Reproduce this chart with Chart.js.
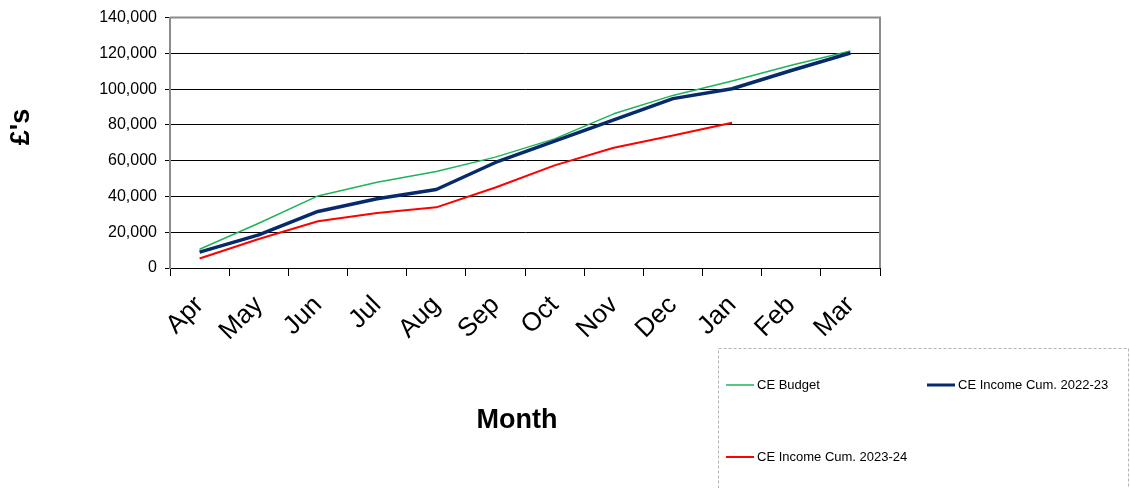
<!DOCTYPE html>
<html>
<head>
<meta charset="utf-8">
<script src="https://cdn.jsdelivr.net/npm/chart.js@4/dist/chart.umd.min.js"></script>
<style>
  html, body { margin: 0; padding: 0; background: #ffffff; }
  #wrap { width: 1130px; height: 488px; position: relative; }
</style>
</head>
<body>
<div id="wrap"><canvas id="c" width="1130" height="488"></canvas></div>
<script>
// Financial-year months and cumulative CE figures (£)
const months = ['Apr', 'May', 'Jun', 'Jul', 'Aug', 'Sep', 'Oct', 'Nov', 'Dec', 'Jan', 'Feb', 'Mar'];
const budget = [10500, 25000, 40300, 48000, 54000, 62000, 72200, 86200, 96500, 104500, 113400, 121300];
const income2223 = [8900, 18500, 31600, 38700, 43900, 59000, 70900, 82800, 94700, 100200, 110400, 120200];
const income2324 = [5300, 16200, 26100, 30700, 33900, 45000, 57400, 67200, 74100, 81200, null, null];
const yTickValues = [0, 20000, 40000, 60000, 80000, 100000, 120000, 140000];
const seriesNames = ['CE Budget', 'CE Income Cum. 2022-23', 'CE Income Cum. 2023-24'];

const FONT = "'Liberation Sans', Arial, sans-serif";

function fmt(v) {
  return String(v).replace(/\B(?=(\d{3})+(?!\d))/g, ',');
}

// Grey frame on the top and right of the plot area, axis titles and the legend box
const decorations = {
  id: 'decorations',
  afterDraw(chart) {
    const ctx = chart.ctx;
    const a = chart.chartArea;
    ctx.save();
    ctx.strokeStyle = '#8c8c8c';
    ctx.lineWidth = 2;
    ctx.beginPath();
    ctx.moveTo(a.left, a.top);
    ctx.lineTo(a.right, a.top);
    ctx.lineTo(a.right, a.bottom);
    ctx.stroke();

    // axis titles
    ctx.fillStyle = '#000';
    ctx.font = 'bold 27px ' + FONT;
    ctx.textAlign = 'center';
    ctx.textBaseline = 'alphabetic';
    ctx.fillText('Month', 517, 428);

    ctx.save();
    ctx.translate(22, 127);
    ctx.rotate(-Math.PI / 2);
    ctx.textBaseline = 'middle';
    ctx.fillText("£'s", 0, 0);
    ctx.restore();

    // legend box
    ctx.strokeStyle = '#b4b4b4';
    ctx.lineWidth = 1;
    ctx.setLineDash([3, 2]);
    ctx.strokeRect(718.5, 348.5, 410, 150);
    ctx.setLineDash([]);

    const slots = [
      { x: 726, y: 385 },
      { x: 927, y: 385 },
      { x: 726, y: 457 }
    ];
    ctx.font = '13px ' + FONT;
    ctx.textAlign = 'left';
    ctx.textBaseline = 'middle';
    chart.data.datasets.forEach((ds, i) => {
      const s = slots[i];
      ctx.strokeStyle = ds.borderColor;
      ctx.lineWidth = Math.min(ds.borderWidth, 3);
      ctx.beginPath();
      ctx.moveTo(s.x, s.y);
      ctx.lineTo(s.x + 28, s.y);
      ctx.stroke();
      ctx.fillStyle = '#000';
      ctx.fillText(ds.label, s.x + 31, s.y);
    });
    ctx.restore();
  }
};

new Chart(document.getElementById('c'), {
  type: 'line',
  data: {
    labels: months,
    datasets: [
      { label: seriesNames[0], data: budget, borderColor: '#1db35a', borderWidth: 1.5, order: 3 },
      { label: seriesNames[1], data: income2223, borderColor: '#062a6b', borderWidth: 3.5, order: 2 },
      { label: seriesNames[2], data: income2324, borderColor: '#ff0000', borderWidth: 2, order: 1 }
    ]
  },
  options: {
    responsive: false,
    animation: false,
    devicePixelRatio: 1,
    layout: { padding: { left: 0, top: 16, right: 250, bottom: 0 } },
    elements: {
      line: { tension: 0, fill: false, borderJoinStyle: 'round', borderCapStyle: 'butt' },
      point: { radius: 0, hoverRadius: 0 }
    },
    plugins: {
      legend: { display: false },
      tooltip: { enabled: false }
    },
    scales: {
      x: {
        type: 'category',
        offset: true,
        afterFit(scale) { scale.height = 220; },
        grid: {
          offset: true,
          drawOnChartArea: false,
          drawTicks: true,
          tickLength: 8,
          tickColor: '#000',
          color: '#000'
        },
        border: { color: '#000', width: 1 },
        ticks: {
          minRotation: 45,
          maxRotation: 45,
          autoSkip: false,
          padding: 14,
          color: '#000',
          font: { family: FONT, size: 26 }
        }
      },
      y: {
        min: 0,
        max: 140000,
        afterFit(scale) { scale.width = 170; },
        afterBuildTicks(scale) { scale.ticks = yTickValues.map(v => ({ value: v })); },
        grid: {
          color: ctx => (ctx.tick && ctx.tick.value === 140000) ? '#8c8c8c' : '#000',
          lineWidth: 1,
          tickLength: 5,
          tickColor: '#000'
        },
        border: { color: '#8c8c8c', width: 2 },
        ticks: {
          padding: 8,
          color: '#000',
          font: { family: FONT, size: 16 },
          callback: v => fmt(v)
        }
      }
    }
  },
  plugins: [decorations]
});
</script>
</body>
</html>
